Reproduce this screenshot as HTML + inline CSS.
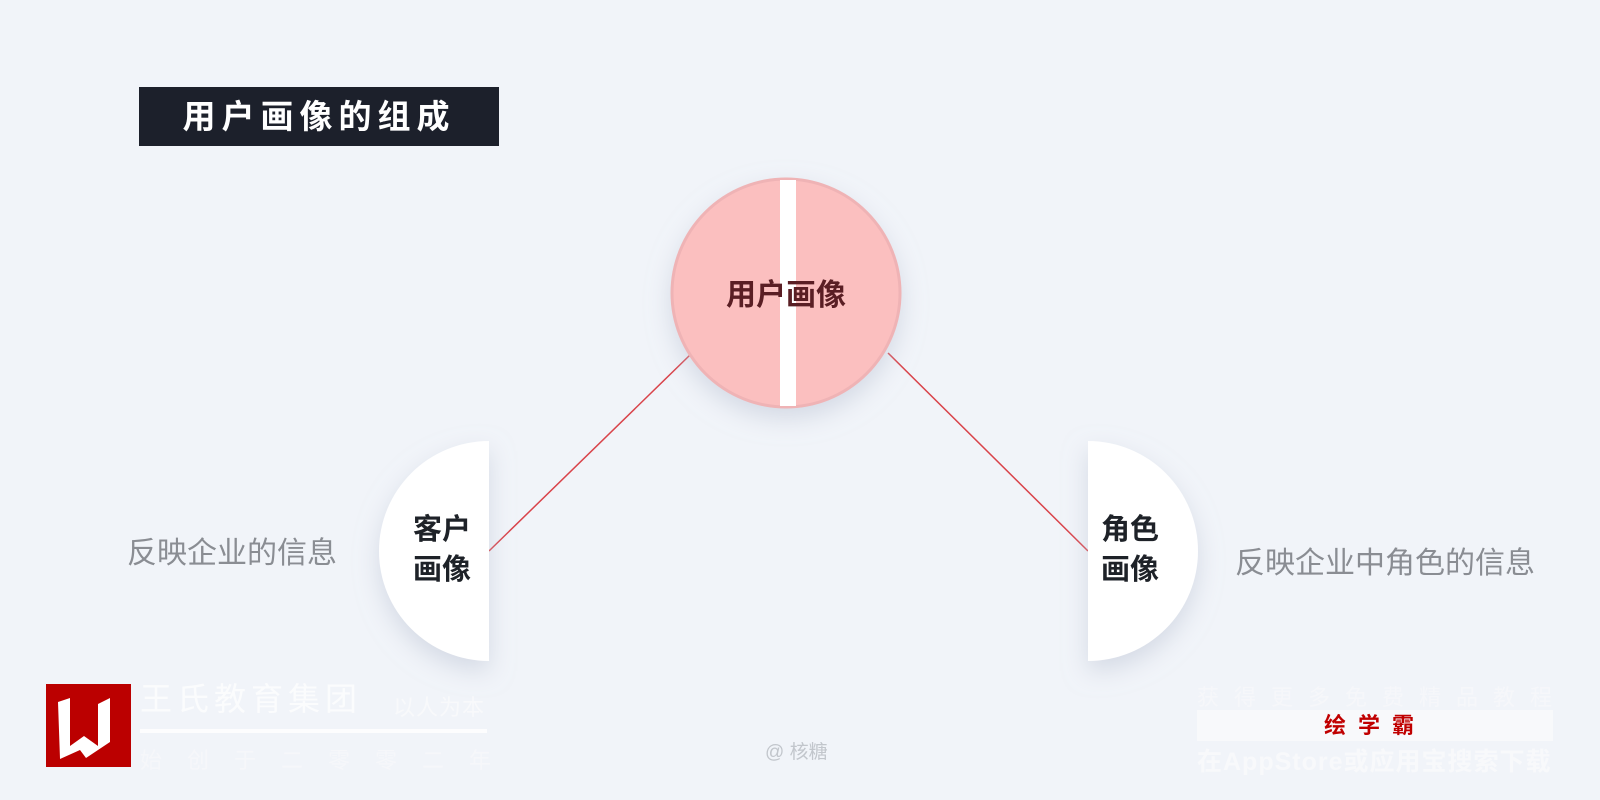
<!DOCTYPE html>
<html><head><meta charset="utf-8"><style>
body{margin:0;width:1600px;height:800px;background:#f1f4f9;position:relative;overflow:hidden;font-family:"Liberation Sans","Noto Sans CJK SC",sans-serif}
.a{position:absolute;white-space:nowrap}
</style></head><body>
<div class="a" style="left:139px;top:87px;width:360px;height:59px;background:#1c202b;color:#fff;font-size:33px;font-weight:bold;line-height:59px;text-align:center;letter-spacing:6px">用户画像的组成</div>
<svg class="a" style="left:0;top:0" width="1600" height="800">
<defs>
<filter id="sh" x="-50%" y="-50%" width="200%" height="200%"><feDropShadow dx="0" dy="10" stdDeviation="12" flood-color="#b8c0d0" flood-opacity="0.5"/></filter>
</defs>
<line x1="489" y1="551" x2="690" y2="355" stroke="#d9434a" stroke-width="1.5"/>
<line x1="888" y1="353" x2="1088" y2="551" stroke="#d9434a" stroke-width="1.5"/>
<circle cx="786" cy="293" r="114" fill="#fbbfbf" stroke="#efb3b5" stroke-width="3" filter="url(#sh)"/>
<rect x="780" y="180" width="16" height="226" fill="#fff"/>
<path d="M489 441 A110 110 0 0 0 489 661 Z" fill="#fff" filter="url(#sh)"/>
<path d="M1088 441 A110 110 0 0 1 1088 661 Z" fill="#fff" filter="url(#sh)"/>
</svg>
<div class="a" style="left:686px;top:270px;width:200px;text-align:center;font-size:30px;font-weight:bold;color:#5a1e24">用户画像</div>
<div class="a" style="left:392px;top:510px;width:100px;text-align:center;font-size:29px;font-weight:bold;color:#1e2228;line-height:40px;white-space:normal">客户<br>画像</div>
<div class="a" style="left:1080px;top:510px;width:100px;text-align:center;font-size:29px;font-weight:bold;color:#1e2228;line-height:40px;white-space:normal">角色<br>画像</div>
<div class="a" style="left:127px;top:528px;font-size:30px;color:#8a8d93">反映企业的信息</div>
<div class="a" style="left:1235px;top:538px;font-size:30px;color:#8a8d93">反映企业中角色的信息</div>
<div class="a" style="left:765px;top:737px;font-size:19px;color:#c2c6cc">@ 核糖</div>
<svg class="a" style="left:46px;top:684px" width="85" height="83"><rect width="85" height="83" fill="#bb0000"/>
<path d="M12 18 L24 14 L24 62 L38 52 L52 62 L52 20 L64 14 L64 58 L40 74 L34 66 L14 75 Z" fill="#fff"/></svg>
<div class="a" style="left:140px;top:674px;font-size:32px;color:#fbfcfd;letter-spacing:5px">王氏教育集团</div>
<div class="a" style="left:393px;top:690px;font-size:22px;color:#f8f9fb;letter-spacing:1px">以人为本</div>
<div class="a" style="left:140px;top:729px;width:347px;height:4px;background:#fdfdfe"></div>
<div class="a" style="left:140px;top:743px;font-size:22px;color:#f6f7fa;letter-spacing:25px">始创于二零零二年</div>
<div class="a" style="left:1197px;top:680px;font-size:22px;color:#f6f7fa;letter-spacing:15px">获得更多免费精品教程</div>
<div class="a" style="left:1197px;top:710px;width:356px;height:31px;background:#f8f9fb;text-align:center;font-size:22px;font-weight:bold;color:#c00000;line-height:31px;letter-spacing:12px">绘学霸</div>
<div class="a" style="left:1197px;top:742px;font-size:25px;color:#f8f9fb;font-weight:bold;letter-spacing:1px">在AppStore或应用宝搜索下载</div>
</body></html>
